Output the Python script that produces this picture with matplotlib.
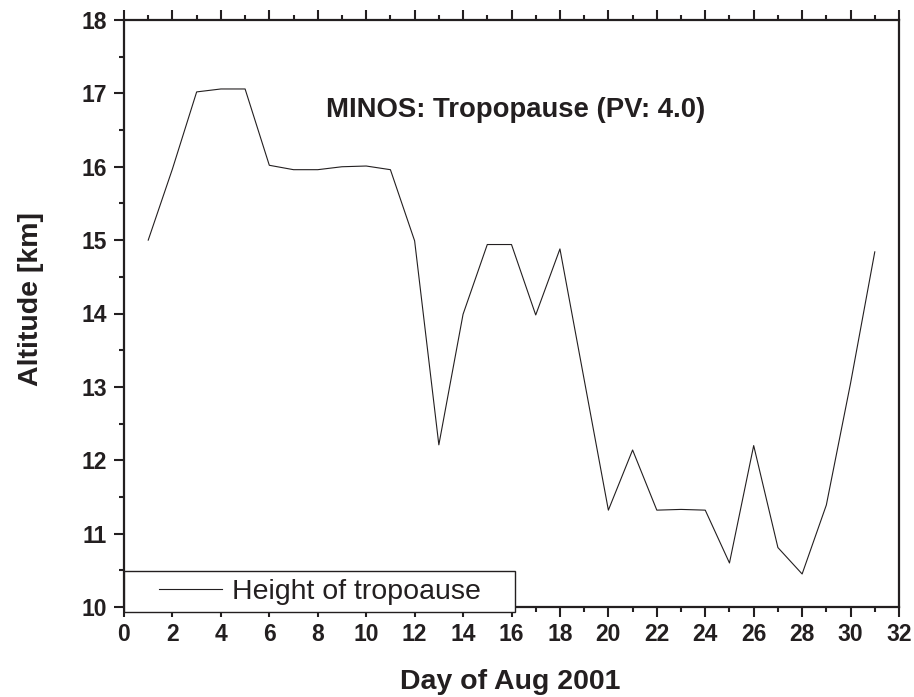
import matplotlib
matplotlib.use('Agg')
import matplotlib.pyplot as plt
import matplotlib.font_manager as fm
from matplotlib.ticker import MultipleLocator
from matplotlib.legend_handler import HandlerLine2D

# ---- data ----
days = list(range(1, 32))
altitude = [15.00, 15.97, 17.02, 17.06, 17.06, 16.02, 15.96, 15.96, 16.00, 16.01,
            15.96, 14.99, 12.21, 13.99, 14.94, 14.94, 13.98, 14.88, 13.10, 11.32,
            12.14, 11.32, 11.33, 11.32, 10.60, 12.20, 10.81, 10.45, 11.39, 13.05,
            14.84]
x_ticks = list(range(0, 33, 2))
y_ticks = list(range(10, 19))
title = 'MINOS: Tropopause (PV: 4.0)'
xlabel = 'Day of Aug 2001'
ylabel = 'Altitude [km]'
legend_label = 'Height of tropoause'

ink = '#231f20'
names = {f.name for f in fm.fontManager.ttflist}
if 'Liberation Sans Narrow' in names:
    bold_family = ['Liberation Sans Narrow', 'DejaVu Sans']
    lab_size, title_size, tick_size = 23, 23, 18
else:
    bold_family = ['Liberation Sans', 'DejaVu Sans']
    lab_size, title_size, tick_size = 20.5, 19.8, 16.5

plt.rcParams['font.family'] = ['Liberation Sans', 'DejaVu Sans']

fig = plt.figure(figsize=(9.14, 6.97), dpi=100)
ax = fig.add_axes([124/914, 1-607/697, (899-124)/914, (607-20)/697])

line, = ax.plot(days, altitude, color=ink, linewidth=0.8, label=legend_label)

ax.set_xlim(0, 32)
ax.set_ylim(10, 18)
ax.xaxis.set_major_locator(MultipleLocator(2))
ax.xaxis.set_minor_locator(MultipleLocator(1))
ax.yaxis.set_major_locator(MultipleLocator(1))
ax.yaxis.set_minor_locator(MultipleLocator(0.5))
ax.set_xticks(x_ticks)
ax.set_yticks(y_ticks)

for s in ax.spines.values():
    s.set_linewidth(1.6)
    s.set_color(ink)

ax.tick_params(which='both', direction='out', color=ink, width=1.5,
               top=True, bottom=True, left=True, right=False,
               labeltop=False, labelright=False)
ax.tick_params(which='major', length=7.5)
ax.tick_params(which='minor', length=3.8)
ax.tick_params(axis='x', which='major', pad=4)
ax.tick_params(axis='y', which='major', pad=5)
for lbl in ax.get_xticklabels() + ax.get_yticklabels():
    lbl.set_fontfamily(bold_family)
    lbl.set_fontweight('bold')
    lbl.set_fontsize(tick_size)
    lbl.set_color(ink)

ax.text(16.16, 16.68, title, ha='center', va='baseline', fontsize=title_size,
        fontweight='bold', family=bold_family, color=ink)

fig.text(510/914, 1-689/697, xlabel, ha='center', va='baseline',
         fontsize=lab_size, fontweight='bold', family=bold_family, color=ink)
fig.text(38/914, 1-299/697, ylabel, ha='center', va='baseline', rotation=90,
         rotation_mode='anchor', fontsize=lab_size, fontweight='bold',
         family=bold_family, color=ink)

fs = 20.5
leg = ax.legend(loc='lower left', bbox_to_anchor=(0, -0.008, 0.5045, 0.0767),
                mode='expand', prop={'size': fs}, handlelength=3.19,
                handletextpad=0.35, borderpad=0.25, borderaxespad=0,
                fancybox=False, framealpha=1, edgecolor=ink,
                handler_map={line: HandlerLine2D(xpad=0.98)})
leg.get_frame().set_linewidth(1.0)
for t in leg.get_texts():
    t.set_color(ink)

fig.savefig('out.png', dpi=100)
